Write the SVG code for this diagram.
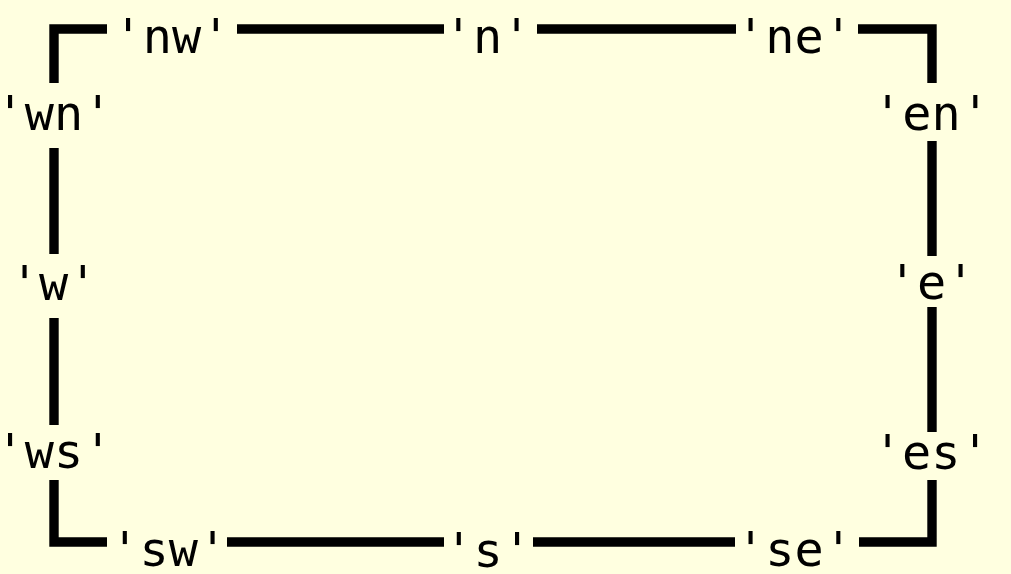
<svg xmlns="http://www.w3.org/2000/svg" width="1011" height="574" viewBox="0 0 1011 574">
<style>
.ln{fill:none;stroke:#000;stroke-width:9.4;stroke-linecap:butt;stroke-linejoin:miter}
.lb{font-family:"DejaVu Sans Mono","Liberation Mono",monospace;font-size:48.5px;fill:#000;text-anchor:middle}
</style>
<rect x="0" y="0" width="1011" height="574" fill="#ffffe0"/>
<g id="connectors">
<path class="ln" d="M54,83 V29 H107"/>
<path class="ln" d="M237,29 H444"/>
<path class="ln" d="M537,29 H736"/>
<path class="ln" d="M858,29 H932 V83"/>
<path class="ln" d="M54,148 V254"/>
<path class="ln" d="M54,318 V425"/>
<path class="ln" d="M54,480 V542 H107"/>
<path class="ln" d="M227,542 H444"/>
<path class="ln" d="M533,542 H735"/>
<path class="ln" d="M859,542 H932 V480"/>
<path class="ln" d="M932,141 V256"/>
<path class="ln" d="M932,307 V432"/>
</g>
<g id="nw"><text class="lb" x="172" y="53">'nw'</text></g>
<g id="n"><text class="lb" x="487.5" y="53">'n'</text></g>
<g id="ne"><text class="lb" x="794.5" y="53">'ne'</text></g>
<g id="wn"><text class="lb" x="54" y="130">'wn'</text></g>
<g id="en"><text class="lb" x="931.5" y="130">'en'</text></g>
<g id="w"><text class="lb" x="53.7" y="300">'w'</text></g>
<g id="e"><text class="lb" x="931.5" y="299">'e'</text></g>
<g id="ws"><text class="lb" x="54" y="468">'ws'</text></g>
<g id="es"><text class="lb" x="931.3" y="469">'es'</text></g>
<g id="sw"><text class="lb" x="168.7" y="566">'sw'</text></g>
<g id="s"><text class="lb" x="488" y="566.5">'s'</text></g>
<g id="se"><text class="lb" x="794.5" y="566">'se'</text></g>
</svg>
